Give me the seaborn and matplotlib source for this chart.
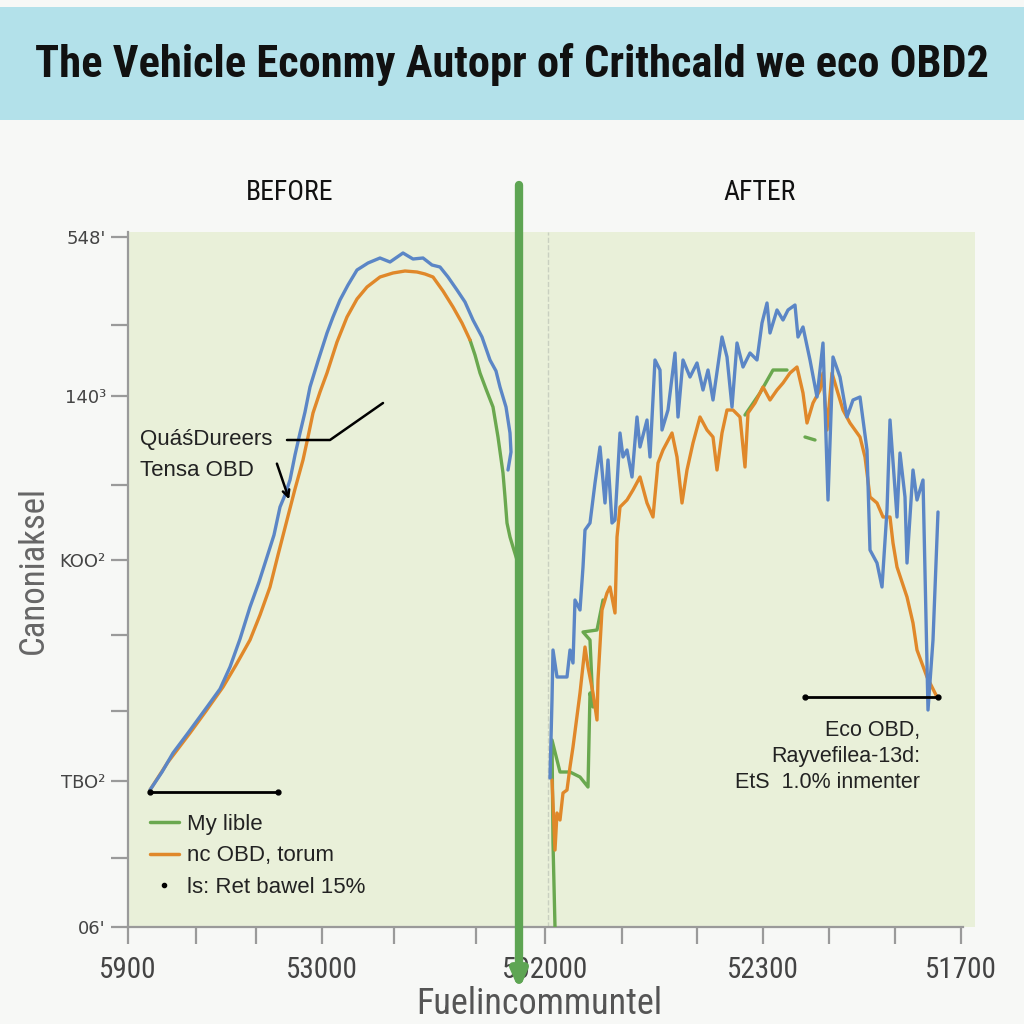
import numpy as np
import pandas as pd
import matplotlib.pyplot as plt
from matplotlib.lines import Line2D
from matplotlib import font_manager
import seaborn as sns

# --- chart values (x / y in chart units) ---
before_blue_x = [22, 34, 45, 60, 79, 92, 102, 112, 122, 131, 139, 146, 152, 157, 162, 167, 172, 177, 182, 190,
                 199, 205, 212, 220, 229, 240, 252, 262, 275, 285, 295, 304, 312, 320, 329, 337, 345, 354, 362,
                 368, 372, 378, 382, 383, 380]
before_blue_y = [137, 155, 174, 194, 220, 238, 260, 288, 320, 345, 370, 392, 420, 432, 447, 472, 494, 515, 540, 566,
                 594, 610, 627, 642, 657, 664, 669, 665, 674, 668, 669, 662, 660, 650, 637, 625, 607, 590, 567,
                 556, 540, 520, 494, 475, 457]

before_orange_x = [22, 40, 62, 78, 95, 108, 122, 132, 142, 150, 159, 167, 175, 180, 185, 192, 199, 209, 219, 229,
                   239, 252, 265, 277, 289, 297, 305, 315, 325, 334, 342]
before_orange_y = [137, 165, 194, 216, 240, 262, 287, 312, 340, 372, 407, 438, 467, 490, 514, 535, 554, 585, 610, 628,
                   640, 650, 654, 656, 655, 653, 650, 636, 620, 604, 587]

before_green_x = [342, 347, 352, 358, 365, 370, 375, 377, 379, 382, 385, 389]
before_green_y = [587, 572, 554, 538, 520, 490, 454, 430, 404, 390, 380, 367]

after_blue_x = [422, 424, 425, 429, 439, 442, 445, 447, 452, 455, 457, 462, 467, 472, 477, 480, 484, 487, 492, 495,
                499, 504, 509, 512, 519, 522, 527, 532, 534, 540, 547, 550, 555, 562, 569, 575, 580, 585, 594, 599,
                604, 609, 615, 622, 629, 634, 639, 642, 649, 655, 660, 667, 670, 675, 682, 689, 695, 700, 705, 712,
                719, 725, 732, 739, 742, 749, 754, 759, 762, 769, 772, 777, 779, 785, 789, 795, 800, 805, 810]
after_blue_y = [149, 227, 277, 250, 250, 277, 264, 327, 317, 360, 397, 404, 444, 480, 424, 467, 404, 407, 494, 470,
                477, 450, 510, 480, 507, 470, 567, 557, 497, 517, 574, 510, 567, 550, 564, 537, 557, 527, 590, 570,
                520, 584, 560, 574, 567, 604, 624, 594, 617, 607, 617, 622, 590, 600, 567, 530, 584, 427, 570, 550,
                510, 527, 530, 477, 377, 364, 340, 417, 507, 410, 474, 430, 364, 457, 427, 447, 217, 287, 415]

after_orange_x = [424, 427, 429, 432, 435, 439, 442, 445, 452, 457, 460, 465, 469, 470, 474, 479, 482, 487, 489, 492,
                  499, 505, 512, 519, 525, 530, 535, 544, 549, 554, 559, 565, 572, 579, 585, 589, 594, 599, 605, 612,
                  617, 620, 627, 635, 642, 649, 655, 662, 669, 675, 679, 685, 692, 695, 699, 704, 709, 715, 722, 732,
                  737, 742, 749, 755, 762, 765, 769, 779, 785, 789, 799, 809]
after_orange_y = [147, 77, 114, 107, 134, 137, 160, 180, 234, 280, 260, 234, 207, 247, 317, 334, 340, 314, 390, 420,
                  427, 437, 450, 424, 410, 464, 477, 494, 470, 424, 457, 484, 510, 497, 490, 457, 494, 517, 517, 510,
                  460, 514, 524, 540, 527, 537, 544, 554, 560, 534, 504, 524, 537, 554, 497, 554, 537, 517, 504, 490,
                  470, 430, 424, 410, 410, 384, 360, 330, 304, 277, 250, 230]

after_green_x = [427, 425, 424, 432, 442, 452, 460, 462, 465, 462, 455, 469, 475]
after_green_y = [0, 84, 187, 155, 155, 150, 140, 234, 220, 287, 295, 297, 327]
after_green2_x = [617, 632, 645, 659]
after_green2_y = [512, 534, 557, 557]
after_green3_x = [677, 687]
after_green3_y = [490, 487]

x_major = [0, 194, 417, 635, 833]
x_labels = ["5900", "53000", "502000", "52300", "51700"]
x_minor = [68, 128, 266, 348, 494, 569, 701, 767]
y_major = [0, 146, 367, 531, 690]
y_labels = ["06'", "TBO²", "KOO²", "140³", "548'"]
y_minor = [69, 216, 292, 442, 602]

divider_x = 391
after_start_x = 420
bracket_before_x = [22, 150]
bracket_before_y = 135
bracket_after_x = [677, 810]
bracket_after_y = 230

BLUE = "#5b86c6"
ORANGE = "#e0882a"
GREEN = "#6aa84f"


def frame(parts):
    rows = []
    for seg, (xs, ys) in enumerate(parts):
        for x, y in zip(xs, ys):
            rows.append({"x": x, "y": y, "seg": seg})
    return pd.DataFrame(rows)


blue = frame([(before_blue_x, before_blue_y), (after_blue_x, after_blue_y)])
orange = frame([(before_orange_x, before_orange_y), (after_orange_x, after_orange_y)])
green = frame([(before_green_x, before_green_y), (after_green_x, after_green_y),
               (after_green2_x, after_green2_y), (after_green3_x, after_green3_y)])

sns.set_theme(style="ticks")
plt.rcParams['font.family'] = ['Liberation Sans', 'DejaVu Sans']

# condensed face if there is one, else plain sans with smaller sizes
installed = {f.name for f in font_manager.fontManager.ttflist}
if "Roboto Condensed" in installed:
    NARROW = ["Roboto Condensed", "DejaVu Sans"]
    sz = dict(title=32, tick=21, head=20, xlab=26, ylab=25)
else:
    NARROW = ["Liberation Sans", "DejaVu Sans"]
    sz = dict(title=26.5, tick=19, head=16.5, xlab=22, ylab=21)

fig = plt.figure(figsize=(10.24, 10.24), dpi=100, facecolor="#f7f8f6")
fig.patches.append(plt.Rectangle((0, 1 - 120 / 1024), 1, 113 / 1024, transform=fig.transFigure,
                                 facecolor="#b3e1ea", edgecolor="none", zorder=0))
fig.text(0.5, 1 - 64 / 1024, "The Vehicle Econmy Autopr of Crithcald we eco OBD2", ha="center", va="center",
         fontsize=sz["title"], fontweight="bold", family=NARROW, color="#111111")

ax = fig.add_axes([128 / 1024, 97 / 1024, 847 / 1024, 695 / 1024])
ax.set_facecolor("#e9f0d9")

ax.axvline(after_start_x, color="#c9d0c0", ls="--", lw=1, zorder=1)

for df, c in [(green, GREEN), (orange, ORANGE), (blue, BLUE)]:
    sns.lineplot(data=df, x="x", y="y", units="seg", estimator=None, sort=False,
                 color=c, lw=2.4, ax=ax, legend=False, zorder=3)

ax.set_xlim(0, 847)
ax.set_ylim(0, 695)

# thick divider arrow
ax.annotate("", xy=(divider_x, -63), xytext=(divider_x, 742),
            arrowprops=dict(arrowstyle="-|>,head_length=0.8,head_width=0.35", color="#5ea553",
                            lw=6, shrinkA=0, shrinkB=0),
            annotation_clip=False, zorder=5)

# brackets
ax.plot(bracket_before_x, [bracket_before_y] * 2, color="black", lw=2, marker="o", ms=3.5, zorder=6)
ax.plot(bracket_after_x, [bracket_after_y] * 2, color="black", lw=2, marker="o", ms=3.5, zorder=6)

# left annotations
ax.text(12, 487, "QuáśDureers", fontsize=16, va="center", ha="left", color="#222222")
ax.text(12, 457, "Tensa OBD", fontsize=16, va="center", ha="left", color="#222222")
ax.plot([159, 202, 255], [487, 487, 524], color="black", lw=1.8, zorder=6)
ax.annotate("", xy=(162, 425), xytext=(148, 466),
            arrowprops=dict(arrowstyle="->", color="black", lw=1.8))

# legend block
handles = [Line2D([], [], color=GREEN, lw=2.5),
           Line2D([], [], color=ORANGE, lw=2.5),
           Line2D([], [], color="black", marker="o", ms=3, lw=0)]
ax.legend(handles, ["My lible", "nc OBD, torum", "ls: Ret bawel 15%"], loc="upper left",
          bbox_to_anchor=(0.026, 0.163), frameon=False, fontsize=16, handlelength=1.3,
          handletextpad=0.35, labelspacing=0.48, borderpad=0, borderaxespad=0,
          labelcolor="#222222")

ax.text(792, 207, "Eco OBD,\nRayvefilea-13d:\nEtS  1.0% inmenter", ha="right", va="top",
        multialignment="right", fontsize=15.5, linespacing=1.3, color="#222222")

# panel heads
fig.text(290 / 1024, 1 - 193 / 1024, "BEFORE", ha="center", va="center", fontsize=sz["head"], family=NARROW,
         color="#111111")
fig.text(760 / 1024, 1 - 193 / 1024, "AFTER", ha="center", va="center", fontsize=sz["head"], family=NARROW,
         color="#111111")

# axes styling
sns.despine(ax=ax)
for s in ["left", "bottom"]:
    ax.spines[s].set_color("#9a9a9a")
    ax.spines[s].set_linewidth(1.6)
ax.spines["bottom"].set_bounds(0, 835)
ax.set_xticks(x_major)
ax.set_xticklabels(x_labels, family=NARROW, fontsize=sz["tick"], color="#444444")
ax.set_xticks(x_minor, minor=True)
ax.set_yticks(y_major)
ax.set_yticklabels(y_labels, family=['DejaVu Sans'], fontsize=13, color="#444444")
ax.set_yticks(y_minor, minor=True)
ax.tick_params(axis="both", which="both", color="#9a9a9a", width=1.6, length=12)
ax.tick_params(axis="x", which="major", pad=9)
ax.tick_params(axis="y", which="major", pad=4)

ax.set_xlabel("Fuelincommuntel", family=NARROW, fontsize=sz["xlab"], color="#555555")
ax.set_ylabel("Canoniaksel", family=NARROW, fontsize=sz["ylab"], color="#666666")
ax.xaxis.set_label_coords(0.486, -0.085)
ax.yaxis.set_label_coords(-0.092, 0.514)

fig.savefig("out.png", dpi=100, facecolor=fig.get_facecolor())
